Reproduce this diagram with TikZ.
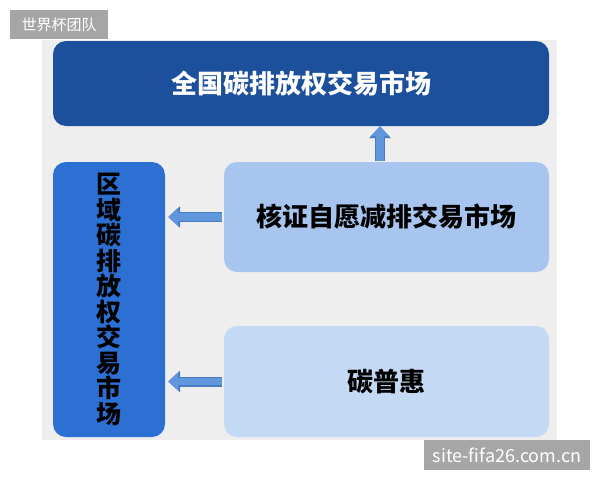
\documentclass[tikz,border=0pt]{standalone}
\usepackage{fontspec}
\newfontfamily\cjk{Noto Sans CJK SC}
\usetikzlibrary{positioning, calc, arrows.meta}
\definecolor{darkblue}{HTML}{1C4F9C}
\definecolor{midblue}{HTML}{2B70D2}
\definecolor{paleblue}{HTML}{A8C5EF}
\definecolor{lightblue}{HTML}{C4D9F4}
\definecolor{arrowfill}{HTML}{6096DC}
\definecolor{arrowline}{HTML}{4A7CC4}
\definecolor{backgray}{HTML}{EEEEEE}
\definecolor{markgray}{HTML}{A6A6A6}
\tikzset{
  market/.style={rounded corners=13pt, inner sep=0pt, font={\cjk\bfseries\fontsize{26}{30}\selectfont}},
  watermark/.style={fill=markgray, text=white, inner sep=0pt, font={\cjk\fontsize{15}{18}\selectfont}},
  blockline/.style={draw=arrowline, line width=10pt, -{Triangle[width=21pt, length=12pt]}},
  blockfill/.style={draw=arrowfill, line width=7.5pt, -{Triangle[width=18pt, length=10pt]}}
}

\begin{document}
\begin{tikzpicture}[x=1pt, y=-1pt]
  \useasboundingbox (0,0) rectangle (600,480);
  \fill[backgray] (42,40) rectangle (557,440);

  % Markets
  \node[market, fill=darkblue, text=white, minimum width=496pt, minimum height=85pt] (national) at (301,83.5) {全国碳排放权交易市场};
  \node[market, fill=midblue, text=black, minimum width=112pt, minimum height=275pt, align=center,
        font={\cjk\bfseries\fontsize{25}{25.5}\selectfont}] (regional) at (109,299.5) {区\\域\\碳\\排\\放\\权\\交\\易\\市\\场};
  \node[market, fill=paleblue, text=black, minimum width=325pt, minimum height=110pt] (ccer) at (386.5,217) {核证自愿减排交易市场};
  \node[market, fill=lightblue, text=black, minimum width=325pt, minimum height=111pt] (puhui) at (386.5,381.5) {碳普惠};

  % Arrows
  \coordinate (upx) at (380,0);
  \foreach \s in {blockline, blockfill}{
    \draw[\s, shorten <=0.5pt] (ccer.north -| upx) -- (national.south -| upx);
    \draw[\s, shorten <=2pt, shorten >=3pt] (ccer.west) -- (regional.east |- ccer.west);
    \draw[\s, shorten <=2pt, shorten >=3pt] (puhui.west) -- (regional.east |- puhui.west);
  }

  % Watermarks
  \node[watermark, minimum width=98pt, minimum height=29pt] (teamtag) at (59,24.5) {世界杯团队};
  \node[watermark, minimum width=166pt, minimum height=30pt, font={\cjk\fontsize{18}{20}\selectfont}] (sitetag) at (507,455) {site-fifa26.com.cn};
\end{tikzpicture}
\end{document}
